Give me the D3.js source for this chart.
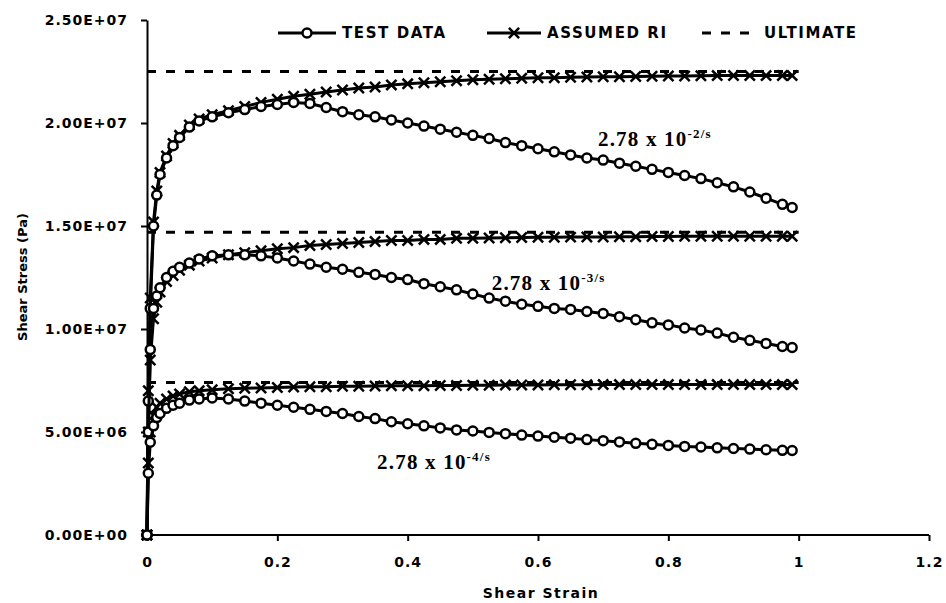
<!DOCTYPE html>
<html>
<head>
<meta charset="utf-8">
<script src="https://cdn.jsdelivr.net/npm/d3@7"></script>
<style>
  body { margin: 0; background: #fff; }
  svg text { font-family: "DejaVu Sans", sans-serif; font-weight: bold; fill: #000; }
</style>
</head>
<body>
<svg width="946" height="603"></svg>
<script>
// shear strain samples shared by all curves
const strain = [0, 0.002, 0.005, 0.01, 0.015, 0.02, 0.03, 0.04, 0.05, 0.065,
  0.08, 0.1, 0.125, 0.15, 0.175, 0.2, 0.225, 0.25, 0.275, 0.3,
  0.325, 0.35, 0.375, 0.4, 0.425, 0.45, 0.475, 0.5, 0.525, 0.55,
  0.575, 0.6, 0.625, 0.65, 0.675, 0.7, 0.725, 0.75, 0.775, 0.8,
  0.825, 0.85, 0.875, 0.9, 0.925, 0.95, 0.975, 0.99];

// shear stress, MPa (x 1e6 Pa)
const testHigh = [0, 6.5, 11.0, 15.0, 16.5, 17.5, 18.3, 18.9, 19.3, 19.8,
  20.1, 20.3, 20.5, 20.65, 20.8, 20.9, 21.0, 20.95, 20.75, 20.55,
  20.4, 20.3, 20.15, 20.0, 19.85, 19.7, 19.55, 19.4, 19.25, 19.05,
  18.9, 18.75, 18.6, 18.45, 18.3, 18.2, 18.05, 17.9, 17.75, 17.6,
  17.45, 17.3, 17.1, 16.9, 16.65, 16.35, 16.05, 15.9];
const riHigh = [0, 7.0, 11.5, 15.2, 16.7, 17.6, 18.4, 19.0, 19.4, 19.9,
  20.2, 20.4, 20.6, 20.8, 21.0, 21.15, 21.3, 21.4, 21.5, 21.6,
  21.7, 21.75, 21.85, 21.9, 21.95, 22.0, 22.05, 22.1, 22.12, 22.15,
  22.17, 22.2, 22.2, 22.22, 22.23, 22.25, 22.25, 22.26, 22.27, 22.28,
  22.28, 22.29, 22.3, 22.3, 22.3, 22.3, 22.3, 22.3];
const testMid = [0, 5.0, 9.0, 11.0, 11.6, 12.0, 12.5, 12.8, 13.0, 13.2,
  13.4, 13.55, 13.6, 13.6, 13.55, 13.45, 13.3, 13.15, 13.0, 12.9,
  12.75, 12.65, 12.5, 12.4, 12.2, 12.05, 11.9, 11.7, 11.5, 11.35,
  11.2, 11.1, 11.0, 10.95, 10.85, 10.75, 10.6, 10.45, 10.3, 10.2,
  10.05, 9.95, 9.8, 9.6, 9.45, 9.3, 9.15, 9.1];
const riMid = [0, 5.0, 8.5, 10.5, 11.3, 11.8, 12.3, 12.6, 12.85, 13.1,
  13.3, 13.45, 13.6, 13.7, 13.8, 13.9, 13.95, 14.05, 14.1, 14.15,
  14.2, 14.25, 14.3, 14.3, 14.35, 14.35, 14.4, 14.4, 14.42, 14.43,
  14.44, 14.45, 14.45, 14.46, 14.47, 14.47, 14.48, 14.48, 14.49, 14.49,
  14.5, 14.5, 14.5, 14.5, 14.5, 14.5, 14.5, 14.5];
const testLow = [0, 3.0, 4.5, 5.3, 5.7, 5.9, 6.15, 6.3, 6.4, 6.55,
  6.6, 6.65, 6.6, 6.5, 6.4, 6.3, 6.2, 6.1, 6.0, 5.9,
  5.75, 5.65, 5.5, 5.4, 5.3, 5.2, 5.1, 5.05, 4.98, 4.92,
  4.85, 4.8, 4.75, 4.7, 4.63, 4.58, 4.52, 4.45, 4.4, 4.35,
  4.3, 4.27, 4.23, 4.2, 4.17, 4.14, 4.11, 4.1];
const riLow = [0, 3.5, 5.0, 5.8, 6.2, 6.4, 6.6, 6.75, 6.85, 6.95,
  7.0, 7.05, 7.1, 7.12, 7.14, 7.16, 7.18, 7.2, 7.2, 7.22,
  7.22, 7.23, 7.24, 7.25, 7.25, 7.26, 7.26, 7.27, 7.27, 7.28,
  7.28, 7.28, 7.29, 7.29, 7.29, 7.3, 7.3, 7.3, 7.3, 7.3,
  7.3, 7.3, 7.3, 7.3, 7.3, 7.3, 7.3, 7.3];

const ultStrain = [0, 1.0];
const ultimate = [22.5, 14.7, 7.4];
const rateExp = ['-2', '-3', '-4'];

const xTicks = [0, 0.2, 0.4, 0.6, 0.8, 1, 1.2];
const xTickLabels = ['0', '0.2', '0.4', '0.6', '0.8', '1', '1.2'];
const yTicks = [0, 5, 10, 15, 20, 25];
const yTickLabels = ['0.00E+00', '5.00E+06', '1.00E+07', '1.50E+07', '2.00E+07', '2.50E+07'];

const svg = d3.select('svg');

const x = d3.scaleLinear().domain([0, 1.2]).range([147, 929]);
const y = d3.scaleLinear().domain([0, 25]).range([535, 20]);

const series = [
  { test: testHigh, ri: riHigh, ult: ultimate[0], exp: rateExp[0], at: [0.692, 18.9] },
  { test: testMid, ri: riMid, ult: ultimate[1], exp: rateExp[1], at: [0.529, 11.9] },
  { test: testLow, ri: riLow, ult: ultimate[2], exp: rateExp[2], at: [0.353, 3.2] },
];

const line = d3.line().x((d) => x(d[0])).y((d) => y(d[1]));

// axes
const xAxis = svg.append('g')
  .attr('transform', `translate(0, ${y(0)})`)
  .call(d3.axisBottom(x).tickValues(xTicks).tickFormat((d, i) => xTickLabels[i])
    .tickSize(6).tickPadding(16));
const yAxis = svg.append('g')
  .attr('transform', `translate(${x(0)}, 0)`)
  .call(d3.axisLeft(y).tickValues(yTicks).tickFormat((d, i) => yTickLabels[i])
    .tickSize(6).tickPadding(13).tickSizeOuter(0));

[xAxis, yAxis].forEach((a) => {
  a.select('.domain').attr('stroke', '#000').attr('stroke-width', 2);
  a.selectAll('.tick line').attr('stroke', '#000').attr('stroke-width', 2);
  a.selectAll('text').style('font-size', '14px').attr('letter-spacing', 1)
    .attr('fill', '#000');
});
xAxis.select('.domain').attr('d', `M${x(0)},0H${x(1.2)}`);

svg.append('text')
  .attr('x', 541).attr('y', 598)
  .attr('text-anchor', 'middle')
  .style('font-size', '14px').attr('letter-spacing', 1.5)
  .text('Shear Strain');

svg.append('text')
  .attr('transform', 'translate(27, 277) rotate(-90)')
  .attr('text-anchor', 'middle')
  .style('font-size', '13px')
  .text('Shear Stress (Pa)');

// ultimate lines
series.forEach((s) => {
  svg.append('path')
    .datum(ultStrain.map((e) => [e, s.ult]))
    .attr('d', line)
    .attr('fill', 'none').attr('stroke', '#000')
    .attr('stroke-width', 3).attr('stroke-dasharray', '9,10');
});

// assumed RI
series.forEach((s) => {
  const pts = strain.map((e, i) => [e, s.ri[i]]);
  svg.append('path').datum(pts).attr('d', line)
    .attr('fill', 'none').attr('stroke', '#000').attr('stroke-width', 3);
  svg.append('g').selectAll('path').data(pts).enter().append('path')
    .attr('transform', (d) => `translate(${x(d[0])}, ${y(d[1])})`)
    .attr('d', d3.symbol(d3.symbolTimes, 70))
    .attr('fill', 'none').attr('stroke', '#000').attr('stroke-width', 2.5);
});

// test data
series.forEach((s) => {
  const pts = strain.map((e, i) => [e, s.test[i]]);
  svg.append('path').datum(pts).attr('d', line)
    .attr('fill', 'none').attr('stroke', '#000').attr('stroke-width', 3);
  svg.append('g').selectAll('circle').data(pts).enter().append('circle')
    .attr('cx', (d) => x(d[0])).attr('cy', (d) => y(d[1]))
    .attr('r', 4.5)
    .attr('fill', '#fff').attr('stroke', '#000').attr('stroke-width', 2.5);
});

// rate annotations
series.forEach((s) => {
  const t = svg.append('text')
    .attr('x', x(s.at[0])).attr('y', y(s.at[1]))
    .style('font-family', '"Liberation Serif", serif')
    .style('font-size', '21px').attr('letter-spacing', 1.2);
  t.append('tspan').text('2.78 x 10');
  t.append('tspan').attr('dy', -8).style('font-size', '13px').text(s.exp + '/s');
});

// legend
const legend = svg.append('g').attr('transform', 'translate(0, 33)');
const legendItems = [
  { x0: 278, x1: 336, label: 'TEST DATA', kind: 'test' },
  { x0: 487, x1: 541, label: 'ASSUMED RI', kind: 'ri' },
  { x0: 702, x1: 758, label: 'ULTIMATE', kind: 'ult' },
];
legendItems.forEach((it) => {
  const g = legend.append('g');
  g.append('line')
    .attr('x1', it.x0).attr('x2', it.x1)
    .attr('stroke', '#000').attr('stroke-width', 3)
    .attr('stroke-dasharray', it.kind === 'ult' ? '9,10' : null);
  const cx = (it.x0 + it.x1) / 2;
  if (it.kind === 'test') {
    g.append('circle').attr('cx', cx).attr('r', 4.5)
      .attr('fill', '#fff').attr('stroke', '#000').attr('stroke-width', 2.5);
  } else if (it.kind === 'ri') {
    g.append('path').attr('transform', `translate(${cx}, 0)`)
      .attr('d', d3.symbol(d3.symbolTimes, 70))
      .attr('fill', 'none').attr('stroke', '#000').attr('stroke-width', 2.5);
  }
  g.append('text')
    .attr('x', it.x1 + 6).attr('dy', '0.36em')
    .style('font-size', '15px').attr('letter-spacing', 1.6)
    .text(it.label);
});
</script>
</body>
</html>
